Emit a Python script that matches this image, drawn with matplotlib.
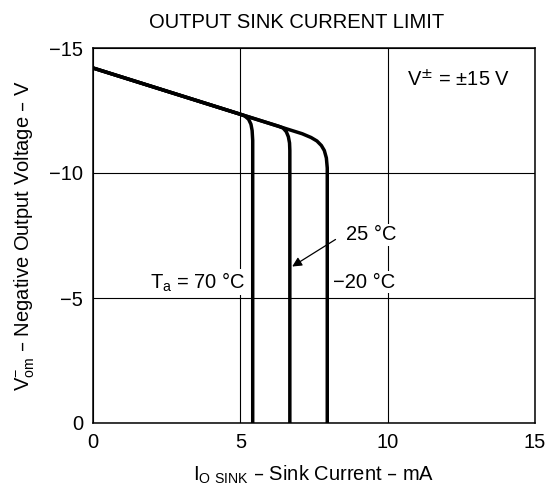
import matplotlib
matplotlib.use("Agg")
import matplotlib.pyplot as plt

plt.rcParams['font.family'] = ['Liberation Sans', 'DejaVu Sans']

# curves (Io sink in mA, Vom- in V)
curve_70_x = [0, 5.0, 5.15, 5.28, 5.36, 5.40, 5.42, 5.42]
curve_70_y = [-14.2, -12.35, -12.28, -12.15, -11.95, -11.7, -11.3, 0]

curve_25_x = [0, 6.3, 6.45, 6.56, 6.63, 6.67, 6.68, 6.68]
curve_25_y = [-14.2, -11.87, -11.8, -11.65, -11.45, -11.2, -10.9, 0]

curve_m20_x = [0, 7.1, 7.4, 7.6, 7.75, 7.85, 7.92, 7.95, 7.95]
curve_m20_y = [-14.2, -11.57, -11.42, -11.28, -11.1, -10.9, -10.6, -10.2, 0]

x_ticks = [0, 5, 10, 15]
y_ticks = [0, -5, -10, -15]
y_tick_labels = ["0", "\u22125", "\u221210", "\u221215"]

fs = 14.5

fig = plt.figure(figsize=(5.52, 4.95), dpi=100)
ax = fig.add_axes([93 / 552, 1 - 423 / 495, 442 / 552, 375 / 495])

for cx, cy in [(curve_70_x, curve_70_y), (curve_25_x, curve_25_y), (curve_m20_x, curve_m20_y)]:
    ax.plot(cx, cy, color='black', lw=2.5, solid_joinstyle='round', solid_capstyle='butt', zorder=3)

ax.set_xlim(0, 15)
ax.set_ylim(0, -15)
ax.set_xticks(x_ticks)
ax.set_yticks(y_ticks)
ax.set_yticklabels(y_tick_labels)
ax.tick_params(length=0, labelsize=fs, pad=7)
ax.grid(True, color='black', lw=0.8)
for s in ax.spines.values():
    s.set_linewidth(1.1)

box = dict(facecolor='white', edgecolor='none', pad=1)
ax.text(10.65, -13.72, "V$^{\\pm}$ = \u00b115 V", fontsize=fs, va='center', ha='left')
ax.text(9.45, -7.52, "25 \u00b0C", fontsize=fs, va='center', ha='center', bbox=box, zorder=4)
ax.text(8.14, -5.64, "\u221220 \u00b0C", fontsize=fs, va='center', ha='left', bbox=box, zorder=4)
ax.text(5.16, -5.64, "T$_\\mathregular{a}$ = 70 \u00b0C", fontsize=fs, va='center', ha='right', bbox=box, zorder=4)
ax.annotate("", xy=(6.68, -6.2), xytext=(8.31, -7.4),
            arrowprops=dict(arrowstyle='-|>', color='black', lw=0.9, mutation_scale=14), zorder=4)

fig.text(297 / 552, 1 - 22 / 495, "OUTPUT SINK CURRENT LIMIT", fontsize=fs, ha='center', va='center')
fig.text(314 / 552, 1 - 475 / 495, "I$_\\mathregular{O\\ SINK}$ \u2013 Sink Current \u2013 mA",
         fontsize=fs, ha='center', va='center')
fig.text(25 / 552, 1 - 236 / 495, "V$_\\mathregular{om}^{\\mathregular{-}}$ \u2013 Negative Output Voltage \u2013 V",
         fontsize=fs, ha='center', va='center', rotation=90)

fig.savefig("out.png", dpi=100)
